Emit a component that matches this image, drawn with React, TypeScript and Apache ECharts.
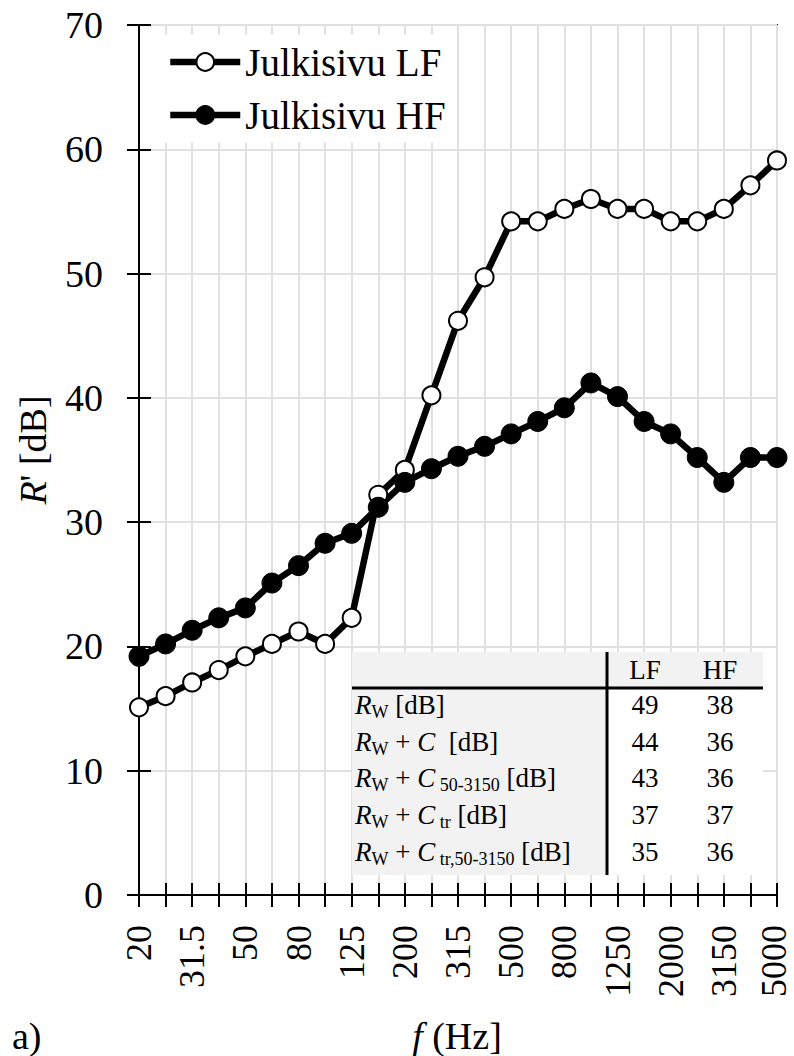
import React, { useEffect, useRef } from "react";
import * as echarts from "echarts";

const categories = ["20","25","31.5","40","50","63","80","100","125","160","200","250","315","400","500","630","800","1000","1250","1600","2000","2500","3150","4000","5000"];
const lfValues = [15.1,16.0,17.1,18.1,19.2,20.2,21.2,20.2,22.3,32.2,34.2,40.2,46.2,49.7,54.2,54.2,55.2,56.0,55.2,55.2,54.2,54.2,55.2,57.1,59.1];
const hfValues = [19.2,20.2,21.3,22.3,23.1,25.1,26.5,28.3,29.1,31.2,33.2,34.3,35.3,36.1,37.1,38.1,39.2,41.2,40.1,38.1,37.1,35.2,33.2,35.2,35.2];
const seriesNames = ["Julkisivu LF", "Julkisivu HF"];
const yMin = 0;
const yMax = 70;
const yInterval = 10;

const tableHeader = ["LF", "HF"];
const tableRowLabels = [
  "{i|R}{s|W}{n| [dB]}",
  "{i|R}{s|W}{n| + }{i|C}{n|  [dB]}",
  "{i|R}{s|W}{n| + }{i|C}{s| 50-3150}{n| [dB]}",
  "{i|R}{s|W}{n| + }{i|C}{s| tr}{n| [dB]}",
  "{i|R}{s|W}{n| + }{i|C}{s| tr,50-3150}{n| [dB]}",
];
const tableLF = [49, 44, 43, 37, 35];
const tableHF = [38, 36, 36, 37, 36];

const FONT = "'Liberation Serif', 'Times New Roman', serif";

export default function App() {
  const ref = useRef<HTMLDivElement>(null);
  useEffect(() => {
    if (!ref.current) return;
    const chart = echarts.init(ref.current, null, { renderer: "svg" });

    const gridLeft = 139, gridRight = 17, gridTop = 25, gridBottom = 161;

    const richTable = {
      i: { fontFamily: FONT, fontSize: 27, fontStyle: "italic", lineHeight: 32, color: "#000" },
      n: { fontFamily: FONT, fontSize: 27, lineHeight: 32, color: "#000" },
      s: { fontFamily: FONT, fontSize: 18, lineHeight: 16, verticalAlign: "bottom", color: "#000" },
    };

    const tX = 352, tY = 652, tW = 411, tH = 223, headH = 36, colX = 607;
    const rowYs = [705, 742, 778, 815, 852];
    const tableEls: any[] = [
      { type: "rect", shape: { x: tX, y: tY, width: tW, height: tH }, style: { fill: "#fff" }, z: 100 },
      { type: "rect", shape: { x: tX, y: tY, width: tW, height: headH }, style: { fill: "#f2f2f2" }, z: 101 },
      { type: "rect", shape: { x: tX, y: tY, width: colX - tX, height: tH }, style: { fill: "#f2f2f2" }, z: 101 },
      { type: "line", shape: { x1: tX, y1: tY + headH, x2: tX + tW, y2: tY + headH }, style: { stroke: "#000", lineWidth: 3 }, z: 102 },
      { type: "line", shape: { x1: colX, y1: tY, x2: colX, y2: tY + tH }, style: { stroke: "#000", lineWidth: 3 }, z: 102 },
      { type: "text", x: 645, y: 670, style: { text: tableHeader[0], fontFamily: FONT, fontSize: 27, fill: "#000", align: "center", verticalAlign: "middle", textAlign: "center", textVerticalAlign: "middle" }, z: 103 },
      { type: "text", x: 720, y: 670, style: { text: tableHeader[1], fontFamily: FONT, fontSize: 27, fill: "#000", align: "center", verticalAlign: "middle", textAlign: "center", textVerticalAlign: "middle" }, z: 103 },
    ];
    tableRowLabels.forEach((lab, k) => {
      tableEls.push({ type: "text", x: 355, y: rowYs[k], style: { text: lab, rich: richTable, fontFamily: FONT, fontSize: 27, fill: "#000", align: "left", verticalAlign: "middle", textAlign: "left", textVerticalAlign: "middle" }, z: 103 });
      tableEls.push({ type: "text", x: 645, y: rowYs[k], style: { text: String(tableLF[k]), fontFamily: FONT, fontSize: 27, fill: "#000", align: "center", verticalAlign: "middle", textAlign: "center", textVerticalAlign: "middle" }, z: 103 });
      tableEls.push({ type: "text", x: 720, y: rowYs[k], style: { text: String(tableHF[k]), fontFamily: FONT, fontSize: 27, fill: "#000", align: "center", verticalAlign: "middle", textAlign: "center", textVerticalAlign: "middle" }, z: 103 });
    });

    const richAxis = {
      i: { fontFamily: FONT, fontSize: 38, fontStyle: "italic", color: "#000" },
      n: { fontFamily: FONT, fontSize: 38, color: "#000" },
    };

    const option: any = {
      animation: false,
      backgroundColor: "#fff",
      grid: {
        left: gridLeft, right: gridRight, top: gridTop, bottom: gridBottom,
        containLabel: false, outerBoundsMode: "none",
        show: true, borderColor: "#000", borderWidth: 2, backgroundColor: "transparent",
      },
      legend: {
        left: 157, top: 34.5, orient: "vertical",
        padding: [8, 10], itemGap: 14, itemWidth: 70, itemHeight: 22,
        backgroundColor: "#fff",
        lineStyle: { width: 6.5, color: "#000" },
        textStyle: { fontFamily: FONT, fontSize: 39, color: "#000" },
        data: seriesNames,
      },
      xAxis: [
        {
          type: "category", data: categories, boundaryGap: false, position: "bottom",
          axisLine: { show: true, lineStyle: { color: "#000", width: 2 } },
          axisTick: { show: true, interval: 0, length: 12, lineStyle: { color: "#000", width: 2 } },
          axisLabel: {
            interval: 1, rotate: 90, margin: 30, fontFamily: FONT, fontSize: 36, lineHeight: 28, color: "#000",
            formatter: (v: string, idx: number) => (idx === categories.length - 1 ? `{e|${v}}` : v),
            rich: { e: { fontFamily: FONT, fontSize: 36, lineHeight: 28, color: "#000", padding: [0, 0, 6, 0] } },
          },
          splitLine: { show: true, interval: 0, lineStyle: { color: "#e0e0e0", width: 2 } },
        },
        {
          type: "category", data: categories, boundaryGap: false, position: "bottom", offset: 0,
          axisLine: { show: false },
          axisTick: { show: true, inside: true, interval: 0, length: 12, lineStyle: { color: "#000", width: 2 } },
          axisLabel: { show: false },
          splitLine: { show: false },
        },
      ],
      yAxis: [
        {
          type: "value", min: yMin, max: yMax, interval: yInterval, position: "left",
          axisLine: { show: true, lineStyle: { color: "#000", width: 2 } },
          axisTick: { show: true, length: 12, lineStyle: { color: "#000", width: 2 } },
          axisLabel: { margin: 36, fontFamily: FONT, fontSize: 38, color: "#000" },
          splitLine: { show: true, lineStyle: { color: "#e0e0e0", width: 2 } },
        },
        {
          type: "value", min: yMin, max: yMax, interval: yInterval, position: "left", offset: 0,
          axisLine: { show: false },
          axisTick: { show: true, inside: true, length: 12, lineStyle: { color: "#000", width: 2 } },
          axisLabel: { show: false },
          splitLine: { show: false },
        },
      ],
      series: [
        {
          name: seriesNames[0], type: "line", data: lfValues, xAxisIndex: 0, yAxisIndex: 0,
          symbol: "circle", symbolSize: 18, showAllSymbol: true,
          lineStyle: { color: "#000", width: 6.5 },
          itemStyle: { color: "#fff", borderColor: "#000", borderWidth: 2 },
        },
        {
          name: seriesNames[1], type: "line", data: hfValues, xAxisIndex: 0, yAxisIndex: 0,
          symbol: "circle", symbolSize: 20, showAllSymbol: true,
          lineStyle: { color: "#000", width: 6.5 },
          itemStyle: { color: "#000", borderColor: "#000", borderWidth: 1 },
        },
      ],
      graphic: [
        ...tableEls,
        { type: "text", x: 33, y: 450, rotation: Math.PI / 2, style: { text: "{i|R}{n|' [dB]}", rich: richAxis, fontFamily: FONT, fontSize: 38, fill: "#000", align: "center", verticalAlign: "middle", textAlign: "center", textVerticalAlign: "middle" }, z: 50 },
        { type: "text", x: 457, y: 1036, style: { text: "{i|f}{n| (Hz]}", rich: richAxis, fontFamily: FONT, fontSize: 38, fill: "#000", align: "center", verticalAlign: "middle", textAlign: "center", textVerticalAlign: "middle" }, z: 50 },
        { type: "text", x: 12, y: 1036, style: { text: "a)", fontFamily: FONT, fontSize: 38, fill: "#000", align: "left", verticalAlign: "middle", textAlign: "left", textVerticalAlign: "middle" }, z: 50 },
      ],
    };
    chart.setOption(option);
    return () => chart.dispose();
  }, []);
  return <div ref={ref} style={{ position: "absolute", left: 0, top: 0, width: 794, height: 1056 }} />;
}
